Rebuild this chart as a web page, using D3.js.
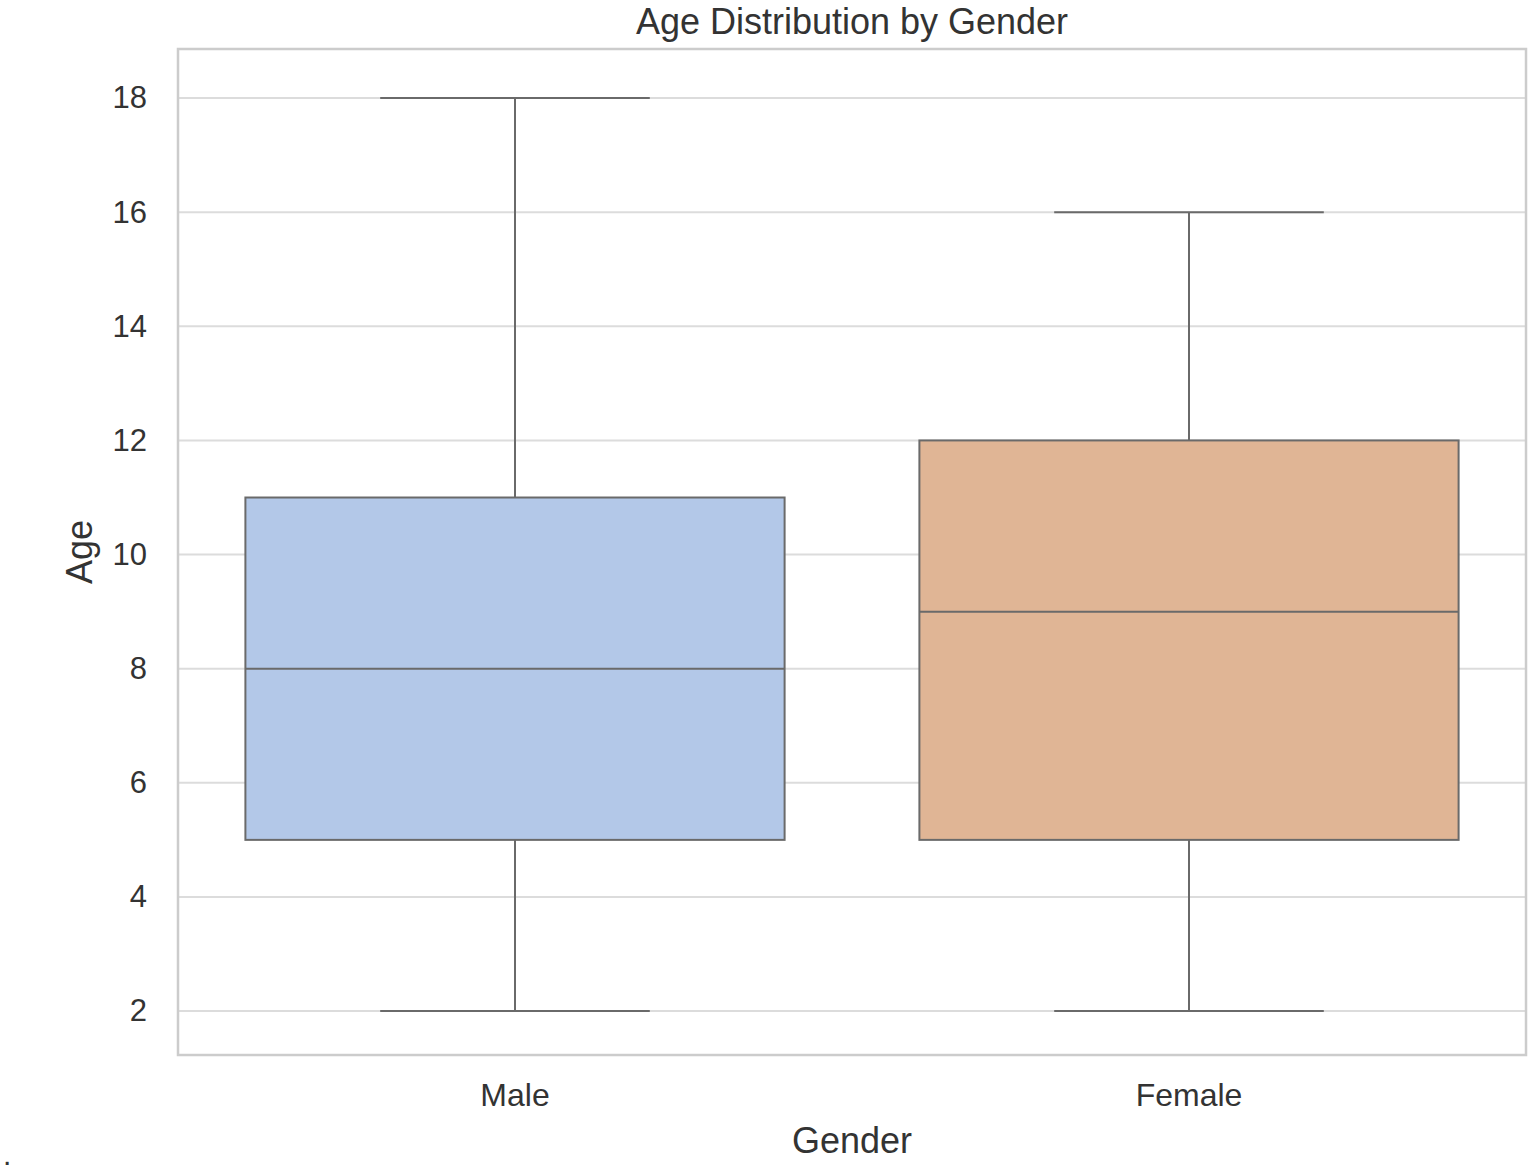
<!DOCTYPE html>
<html>
<head>
<meta charset="utf-8">
<script src="https://cdn.jsdelivr.net/npm/d3@7"></script>
<style>
  body { margin: 0; background: #fff; }
  text { font-family: "Liberation Sans", Arial, sans-serif; fill: #333; }
</style>
</head>
<body>
<div id="chart"></div>
<script>
const categories = ["Male", "Female"];
const mins = [2, 2];
const q1s = [5, 5];
const medians = [8, 9];
const q3s = [11, 12];
const maxs = [18, 16];
const colors = ["#b3c8e8", "#e0b595"];
const yTicks = [2, 4, 6, 8, 10, 12, 14, 16, 18];

const width = 1535;
const height = 1173;
const margin = { top: 49, right: 9, bottom: 118, left: 178 };

const data = categories.map((c, i) => ({
  name: c, min: mins[i], q1: q1s[i], median: medians[i], q3: q3s[i], max: maxs[i], color: colors[i]
}));

const svg = d3.select("#chart").append("svg")
  .attr("width", width)
  .attr("height", height);

const x = d3.scaleBand()
  .domain(categories)
  .range([margin.left, width - margin.right]);

const y = d3.scaleLinear()
  .domain([1.23, 18.86])
  .range([height - margin.bottom, margin.top]);

// grid
svg.append("g")
  .selectAll("line")
  .data(yTicks)
  .join("line")
  .attr("x1", margin.left)
  .attr("x2", width - margin.right)
  .attr("y1", d => y(d))
  .attr("y2", d => y(d))
  .attr("stroke", "#dcdcdc")
  .attr("stroke-width", 2);

// axes (text only, seaborn whitegrid has no tick marks)
const yAxis = svg.append("g")
  .attr("transform", `translate(${margin.left},0)`)
  .call(d3.axisLeft(y).tickValues(yTicks).tickSize(0).tickPadding(31));
yAxis.select(".domain").remove();
yAxis.selectAll("text").attr("font-size", "31px").style("font-family", "'Liberation Sans', Arial, sans-serif").attr("fill", "#333");

const xAxis = svg.append("g")
  .attr("transform", `translate(0,${height - margin.bottom})`)
  .call(d3.axisBottom(x).tickSize(0).tickPadding(28));
xAxis.select(".domain").remove();
xAxis.selectAll("text").attr("font-size", "32px").style("font-family", "'Liberation Sans', Arial, sans-serif").attr("fill", "#333");

// frame
svg.append("rect")
  .attr("x", margin.left)
  .attr("y", margin.top)
  .attr("width", width - margin.left - margin.right)
  .attr("height", height - margin.top - margin.bottom)
  .attr("fill", "none")
  .attr("stroke", "#cccccc")
  .attr("stroke-width", 2.5);

const boxW = x.bandwidth() * 0.8;
const capW = boxW / 2;
const lineColor = "#6a6a6a";

const g = svg.append("g").selectAll("g")
  .data(data)
  .join("g");

// whiskers
g.append("line")
  .attr("x1", d => x(d.name) + x.bandwidth() / 2)
  .attr("x2", d => x(d.name) + x.bandwidth() / 2)
  .attr("y1", d => y(d.min))
  .attr("y2", d => y(d.q1))
  .attr("stroke", lineColor).attr("stroke-width", 2);
g.append("line")
  .attr("x1", d => x(d.name) + x.bandwidth() / 2)
  .attr("x2", d => x(d.name) + x.bandwidth() / 2)
  .attr("y1", d => y(d.q3))
  .attr("y2", d => y(d.max))
  .attr("stroke", lineColor).attr("stroke-width", 2);

// caps
g.selectAll(".cap")
  .data(d => [d.min, d.max].map(v => ({ name: d.name, v })))
  .join("line")
  .attr("class", "cap")
  .attr("x1", d => x(d.name) + x.bandwidth() / 2 - capW / 2)
  .attr("x2", d => x(d.name) + x.bandwidth() / 2 + capW / 2)
  .attr("y1", d => y(d.v))
  .attr("y2", d => y(d.v))
  .attr("stroke", lineColor).attr("stroke-width", 2);

// boxes
g.append("rect")
  .attr("x", d => x(d.name) + (x.bandwidth() - boxW) / 2)
  .attr("y", d => y(d.q3))
  .attr("width", boxW)
  .attr("height", d => y(d.q1) - y(d.q3))
  .attr("fill", d => d.color)
  .attr("stroke", lineColor)
  .attr("stroke-width", 2);

// medians
g.append("line")
  .attr("x1", d => x(d.name) + (x.bandwidth() - boxW) / 2)
  .attr("x2", d => x(d.name) + (x.bandwidth() + boxW) / 2)
  .attr("y1", d => y(d.median))
  .attr("y2", d => y(d.median))
  .attr("stroke", lineColor).attr("stroke-width", 2);

// title and labels
svg.append("text")
  .attr("x", (margin.left + width - margin.right) / 2)
  .attr("y", 34)
  .attr("text-anchor", "middle")
  .attr("font-size", "36px")
  .text("Age Distribution by Gender");

svg.append("text")
  .attr("x", (margin.left + width - margin.right) / 2)
  .attr("y", 1153)
  .attr("text-anchor", "middle")
  .attr("font-size", "36px")
  .text("Gender");

svg.append("text")
  .attr("transform", `translate(92,${(margin.top + height - margin.bottom) / 2}) rotate(-90)`)
  .attr("text-anchor", "middle")
  .attr("font-size", "36px")
  .text("Age");

svg.append("text")
  .attr("x", 3)
  .attr("y", 1165)
  .attr("font-size", "30px")
  .text(".");
</script>
</body>
</html>
